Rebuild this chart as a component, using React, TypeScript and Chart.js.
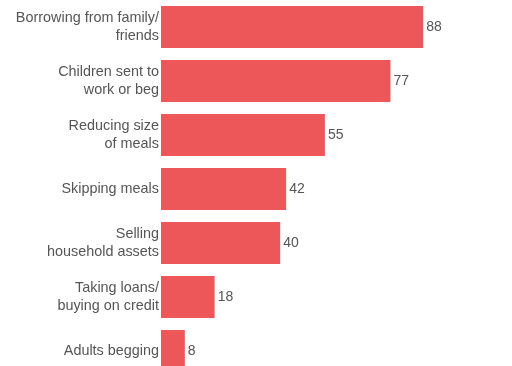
import React, { useEffect, useRef } from "react";
import { Chart, registerables } from "chart.js";

Chart.register(...registerables);

const categories: string[][] = [
  ["Borrowing from family/", "friends"],
  ["Children sent to", "work or beg"],
  ["Reducing size", "of meals"],
  ["Skipping meals"],
  ["Selling", "household assets"],
  ["Taking loans/", "buying on credit"],
  ["Adults begging"],
];
const values: number[] = [88, 77, 55, 42, 40, 18, 8];

const FONT = "'Liberation Sans', Arial, sans-serif";
const TEXT = "#555555";

const valueLabels = {
  id: "valueLabels",
  afterDatasetsDraw(chart: any) {
    const ctx = chart.ctx;
    const meta = chart.getDatasetMeta(0);
    ctx.save();
    ctx.font = `14px ${FONT}`;
    ctx.fillStyle = TEXT;
    ctx.textAlign = "left";
    ctx.textBaseline = "middle";
    meta.data.forEach((bar: any, i: number) => {
      ctx.fillText(String(values[i]), bar.x + 3, bar.y);
    });
    ctx.restore();
  },
};

export default function App() {
  const ref = useRef<HTMLCanvasElement>(null);
  useEffect(() => {
    if (!ref.current) return;
    const chart = new Chart(ref.current, {
      type: "bar",
      data: {
        labels: categories,
        datasets: [
          {
            data: values,
            backgroundColor: "#EE5759",
            borderWidth: 0,
            barPercentage: 0.78,
            categoryPercentage: 1,
          },
        ],
      },
      options: {
        indexAxis: "y",
        animation: false,
        responsive: false,
        maintainAspectRatio: false,
        layout: { padding: { left: 0, right: 53, top: 0, bottom: 0 } },
        plugins: { legend: { display: false }, tooltip: { enabled: false } },
        scales: {
          x: { display: false, min: 0, max: 100 },
          y: {
            grid: { display: false, drawTicks: false },
            border: { display: false },
            ticks: {
              color: TEXT,
              font: { family: FONT, size: 14.4, lineHeight: 1.25 },
              padding: 2,
            },
            afterFit: (scale: any) => {
              scale.width = 161;
              scale.paddingTop = 0;
              scale.paddingBottom = 0;
            },
          },
        },
      },
      plugins: [valueLabels],
    });
    return () => chart.destroy();
  }, []);
  return (
    <div style={{ position: "fixed", left: 0, top: 0, width: 512, height: 378 }}>
      <canvas ref={ref} width={512} height={378} style={{ display: "block" }} />
    </div>
  );
}
